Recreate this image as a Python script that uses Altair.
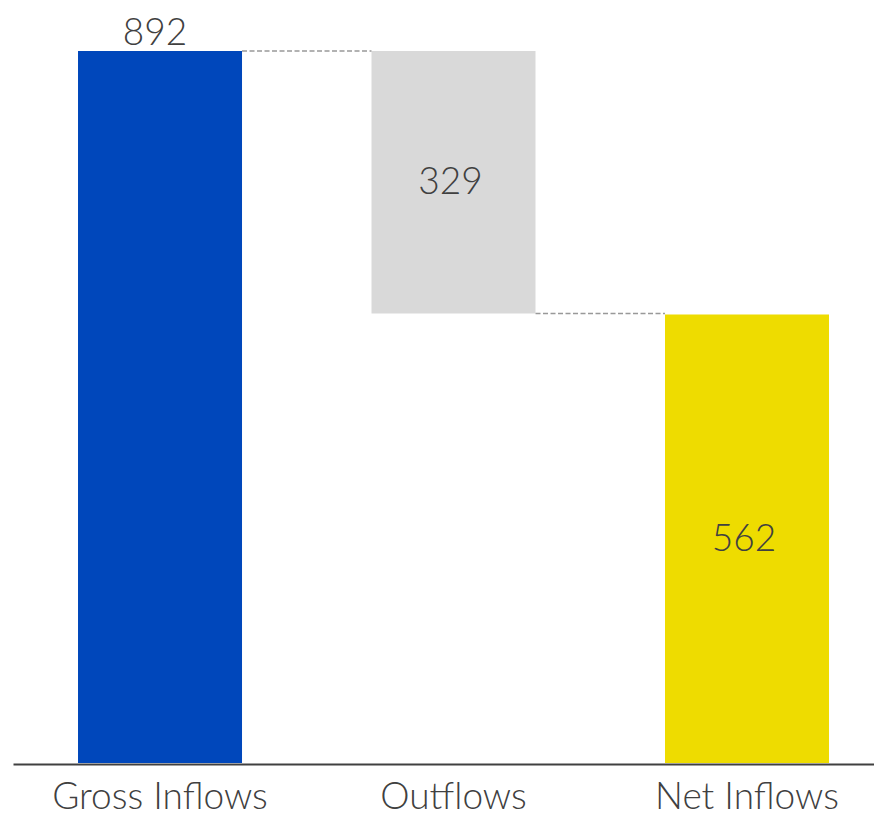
import altair as alt
import pandas as pd

categories = ["Gross Inflows", "Outflows", "Net Inflows"]
values = [892, 329, 562]
kinds = ["total", "decrease", "total"]
label_place = ["above", "inside", "inside"]
colors = ["#0047BB", "#D9D9D9", "#EEDC00"]

starts, ends, levels = [], [], []
running = 0
for v, k in zip(values, kinds):
    if k == "total":
        s, e = 0, v
        running = v
    else:
        s, e = running, running - v
        running = e
    starts.append(s)
    ends.append(e)
    levels.append(running)

bars = pd.DataFrame({
    "category": categories,
    "start": starts,
    "end": ends,
    "value": values,
    "place": label_place,
    "mid": [(s + e) / 2 for s, e in zip(starts, ends)],
    "top": [max(s, e) for s, e in zip(starts, ends)],
})

connectors = pd.DataFrame({
    "from": categories[:-1],
    "to": categories[1:],
    "level": levels[:-1],
})

FONT = "Lato"
TXT = "#404040"

xscale = alt.Scale(domain=categories, paddingInner=0.4412, paddingOuter=0.1874, align=0.591)
yscale = alt.Scale(domain=[0, max(values)], nice=False, zero=True)

x_axis = alt.Axis(
    labelFont=FONT, labelFontSize=37, labelFontWeight=300, labelColor=TXT, labelAngle=0,
    labelPadding=15, labelLimit=0, ticks=False, domainColor=TXT, domainWidth=2, offset=1,
    grid=False,
)

base = alt.Chart(bars)

bar_layer = base.mark_bar().encode(
    x=alt.X("category:N", scale=xscale, axis=x_axis, title=None, sort=categories),
    y=alt.Y("start:Q", scale=yscale, axis=None),
    y2="end:Q",
    color=alt.Color("category:N", scale=alt.Scale(domain=categories, range=colors), legend=None),
)

rule_layer = alt.Chart(connectors).mark_rule(
    color="#999999", strokeWidth=1.5, strokeDash=[5, 2.5]
).encode(
    x=alt.X("from:N", scale=xscale, bandPosition=1, title=None, sort=categories),
    x2=alt.X2("to:N", bandPosition=0),
    y=alt.Y("level:Q", scale=yscale, axis=None),
)

text_above = base.transform_filter(alt.datum.place == "above").mark_text(
    font=FONT, fontSize=37, fontWeight=300, color=TXT, baseline="alphabetic", dy=-6, dx=-5
).encode(
    x=alt.X("category:N", scale=xscale, sort=categories, title=None),
    y=alt.Y("top:Q", scale=yscale, axis=None),
    text="value:Q",
)

text_inside = base.transform_filter(alt.datum.place == "inside").mark_text(
    font=FONT, fontSize=37, fontWeight=300, color=TXT, baseline="alphabetic", dy=12, dx=-3
).encode(
    x=alt.X("category:N", scale=xscale, sort=categories, title=None),
    y=alt.Y("mid:Q", scale=yscale, axis=None),
    text="value:Q",
)

chart = alt.layer(bar_layer, rule_layer, text_above, text_inside).properties(
    width=861,
    height=712,
    padding={"left": 5, "top": 43, "right": 0, "bottom": 54},
    autosize=alt.AutoSizeParams(type="none"),
    background="white",
).configure_view(strokeWidth=0)

chart.save("out.html", embed_options={"renderer": "svg", "actions": False})
